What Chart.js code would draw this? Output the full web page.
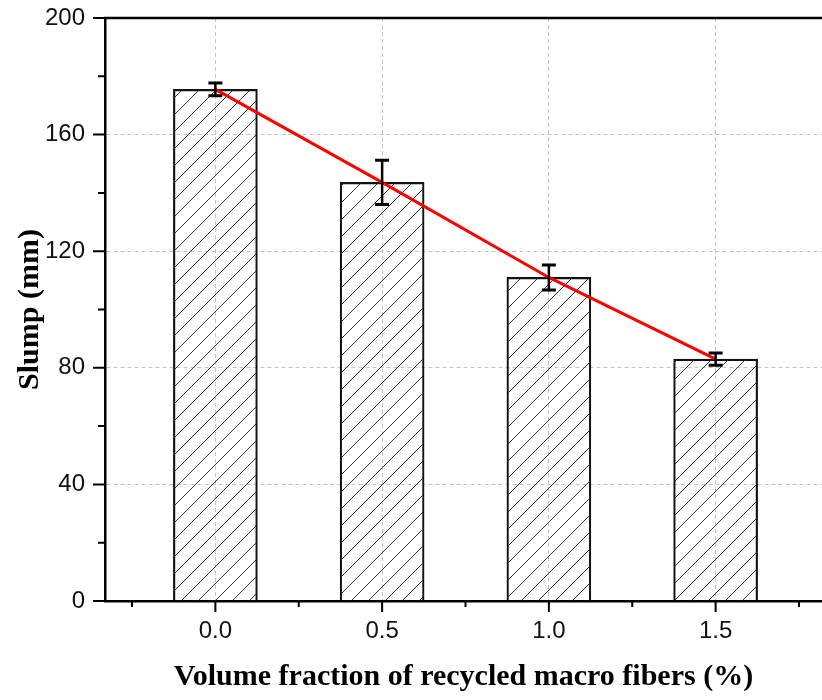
<!DOCTYPE html>
<html>
<head>
<meta charset="utf-8">
<script src="https://cdn.jsdelivr.net/npm/chart.js@4.4.0/dist/chart.umd.min.js"></script>
<style>
    body { margin: 0; background: #fff; }
    canvas { display: block; }
</style>
</head>
<body>
<canvas id="slumpChart" width="822" height="700"></canvas>
<script>
// Slump test data
const fiberFraction = [0.0, 0.5, 1.0, 1.5];
const slumpMean = [175.5, 143.6, 111.0, 83.0];
const slumpError = [2.2, 7.6, 4.3, 2.1];

// Tick positions (majors get labels, the rest are minor ticks)
const xTickValues = [-0.25, 0.0, 0.25, 0.5, 0.75, 1.0, 1.25, 1.5, 1.75];
const xMajorTicks = [0.0, 0.5, 1.0, 1.5];
const yTickValues = [0, 20, 40, 60, 80, 100, 120, 140, 160, 180, 200];
const yMajorTicks = [0, 40, 80, 120, 160, 200];

function isMajor(list, v) {
    return list.some(m => Math.abs(m - v) < 1e-6);
}

function makeHatch() {
    const size = 17;
    const c = document.createElement('canvas');
    c.width = size;
    c.height = size;
    const g = c.getContext('2d');
    g.strokeStyle = '#333';
    g.lineWidth = 1;
    g.beginPath();
    g.moveTo(0, size);
    g.lineTo(size, 0);
    g.moveTo(-2, 2);
    g.lineTo(2, -2);
    g.moveTo(size - 2, size + 2);
    g.lineTo(size + 2, size - 2);
    g.stroke();
    return g.createPattern(c, 'repeat');
}

const points = fiberFraction.map((x, i) => ({x: x, y: slumpMean[i]}));

// Error bars on top of everything
const errorBarPlugin = {
    id: 'errorBars',
    afterDatasetsDraw(chart) {
        const ctx = chart.ctx;
        const xs = chart.scales.x, ys = chart.scales.y;
        ctx.save();
        ctx.strokeStyle = '#000';
        fiberFraction.forEach((x, i) => {
            const px = xs.getPixelForValue(x);
            const top = ys.getPixelForValue(slumpMean[i] + slumpError[i]);
            const bot = ys.getPixelForValue(slumpMean[i] - slumpError[i]);
            ctx.lineWidth = 2.5;
            ctx.beginPath();
            ctx.moveTo(px, top);
            ctx.lineTo(px, bot);
            ctx.stroke();
            ctx.lineWidth = 3;
            ctx.beginPath();
            ctx.moveTo(px - 7, top);
            ctx.lineTo(px + 7, top);
            ctx.moveTo(px - 7, bot);
            ctx.lineTo(px + 7, bot);
            ctx.stroke();
        });
        ctx.restore();
    }
};

// Outward ticks (major + minor) and the top frame line
const frameTicksPlugin = {
    id: 'frameTicks',
    afterDraw(chart) {
        const ctx = chart.ctx;
        const area = chart.chartArea;
        const xs = chart.scales.x, ys = chart.scales.y;
        ctx.save();
        ctx.strokeStyle = '#000';
        ctx.lineWidth = 2;
        ctx.beginPath();
        xTickValues.forEach(v => {
            const px = xs.getPixelForValue(v);
            const len = isMajor(xMajorTicks, v) ? 11 : 6;
            ctx.moveTo(px, area.bottom);
            ctx.lineTo(px, area.bottom + len);
        });
        yTickValues.forEach(v => {
            const py = ys.getPixelForValue(v);
            const len = isMajor(yMajorTicks, v) ? 12 : 7;
            ctx.moveTo(area.left, py);
            ctx.lineTo(area.left - len, py);
        });
        ctx.stroke();
        ctx.lineWidth = 2.5;
        ctx.beginPath();
        ctx.moveTo(area.left - 1, area.top);
        ctx.lineTo(area.right, area.top);
        ctx.stroke();
        ctx.restore();
    }
};

const ctx = document.getElementById('slumpChart').getContext('2d');
const slumpChart = new Chart(ctx, {
    type: 'bar',
    data: {
        datasets: [
            {
                type: 'line',
                label: 'Trend',
                data: points,
                borderColor: '#ff0000',
                borderWidth: 3,
                pointRadius: 0,
                tension: 0,
                order: 1
            },
            {
                type: 'bar',
                label: 'Slump',
                data: points,
                backgroundColor: makeHatch(),
                borderColor: '#111',
                borderWidth: 1.5,
                barThickness: 84,
                order: 2
            }
        ]
    },
    options: {
        responsive: false,
        animation: false,
        devicePixelRatio: 1,
        layout: {
            padding: {top: 18, right: 0, bottom: 0, left: 0}
        },
        plugins: {
            legend: {display: false},
            tooltip: {enabled: false}
        },
        scales: {
            x: {
                type: 'linear',
                offset: false,
                min: -0.331,
                max: 1.819,
                afterBuildTicks: function(scale) {
                    scale.ticks = xTickValues.map(v => ({value: v}));
                },
                afterFit: function(scale) {
                    scale.height = 99;
                    scale.paddingLeft = 0;
                    scale.paddingRight = 0;
                },
                grid: {
                    offset: false,
                    drawTicks: false,
                    lineWidth: 1,
                    color: c => isMajor(xMajorTicks, c.tick.value) ? '#c4c4c4' : 'rgba(0,0,0,0)'
                },
                border: {
                    color: '#000',
                    width: 2.5,
                    dash: [4, 3]
                },
                ticks: {
                    autoSkip: false,
                    maxRotation: 0,
                    padding: 16,
                    color: '#111',
                    font: {family: 'Liberation Sans', size: 24},
                    callback: v => isMajor(xMajorTicks, v) ? v.toFixed(1) : ''
                },
                title: {
                    display: true,
                    text: 'Volume fraction of recycled macro fibers (%)',
                    color: '#000',
                    font: {family: 'Liberation Serif', size: 30, weight: 'bold'},
                    padding: {top: 0, bottom: 5}
                }
            },
            y: {
                min: 0,
                max: 200,
                afterBuildTicks: function(scale) {
                    scale.ticks = yTickValues.map(v => ({value: v}));
                },
                afterFit: function(scale) {
                    scale.width = 105;
                    scale.paddingTop = 0;
                    scale.paddingBottom = 0;
                },
                grid: {
                    drawTicks: false,
                    lineWidth: 1,
                    color: c => (isMajor(yMajorTicks, c.tick.value) && c.tick.value > 0 && c.tick.value < 200) ? '#c4c4c4' : 'rgba(0,0,0,0)'
                },
                border: {
                    color: '#000',
                    width: 2.5,
                    dash: [4, 3]
                },
                ticks: {
                    autoSkip: false,
                    padding: 20,
                    color: '#111',
                    font: {family: 'Liberation Sans', size: 24},
                    callback: v => isMajor(yMajorTicks, v) ? String(v) : ''
                },
                title: {
                    display: true,
                    text: 'Slump (mm)',
                    color: '#000',
                    font: {family: 'Liberation Serif', size: 30, weight: 'bold'},
                    padding: {top: 12, bottom: 0}
                }
            }
        }
    },
    plugins: [errorBarPlugin, frameTicksPlugin]
});
</script>
</body>
</html>
